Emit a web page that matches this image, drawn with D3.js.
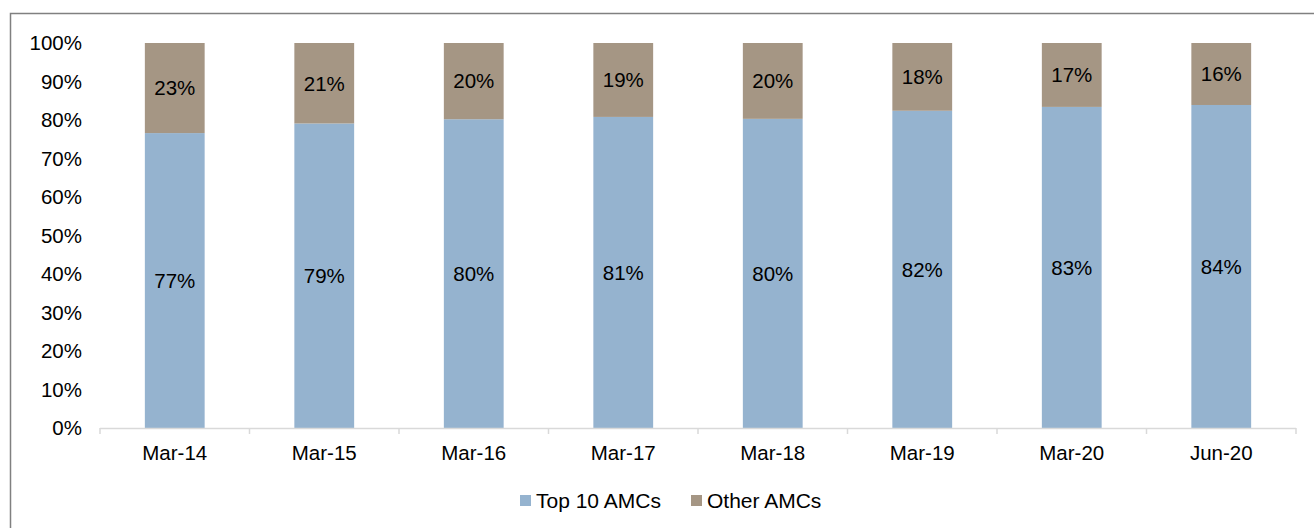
<!DOCTYPE html>
<html>
<head>
<meta charset="utf-8">
<script src="https://cdn.jsdelivr.net/npm/d3@7"></script>
<style>
  body { margin: 0; background: #fff; }
  text { font-family: "Liberation Sans", Arial, sans-serif; fill: #000; }
</style>
</head>
<body>
<div id="chart"></div>
<script>
// values (percent share of AUM)
var periods = ['Mar-14', 'Mar-15', 'Mar-16', 'Mar-17', 'Mar-18', 'Mar-19', 'Mar-20', 'Jun-20'];
var top10 = [76.6, 79.1, 80.2, 80.8, 80.3, 82.4, 83.4, 83.9];
var others = [23.4, 20.9, 19.8, 19.2, 19.7, 17.6, 16.6, 16.1];
var yTicks = [0, 10, 20, 30, 40, 50, 60, 70, 80, 90, 100];
var seriesNames = ['Top 10 AMCs', 'Other AMCs'];
var seriesColors = ['#95b3cf', '#a59684'];

var W = 1314, H = 528;

var svg = d3.select('#chart').append('svg')
  .attr('width', W)
  .attr('height', H);

// outer frame
svg.append('rect')
  .attr('x', 10.5).attr('y', 13.5)
  .attr('width', W).attr('height', H)
  .style('fill', 'none')
  .style('stroke', '#808080')
  .style('stroke-width', 1.5);

var x = d3.scaleBand()
  .domain(periods)
  .range([100, 1296])
  .paddingInner(0.6)
  .paddingOuter(0.3);

var y = d3.scaleLinear()
  .domain([0, 100])
  .range([428, 43]);

var rows = periods.map(function(p, i) {
  return { period: p, top10: top10[i], others: others[i] };
});

var stacked = d3.stack().keys(['top10', 'others'])(rows);

var groups = svg.selectAll('g.series')
  .data(stacked)
  .enter()
  .append('g')
  .attr('class', 'series')
  .style('fill', (d, i) => seriesColors[i]);

groups.selectAll('rect')
  .data(d => d)
  .enter()
  .append('rect')
  .attr('x', d => x(d.data.period))
  .attr('y', d => y(d[1]))
  .attr('width', x.bandwidth())
  .attr('height', d => y(d[0]) - y(d[1]));

groups.selectAll('text')
  .data(d => d)
  .enter()
  .append('text')
  .attr('x', d => x(d.data.period) + x.bandwidth() / 2)
  .attr('y', d => (y(d[0]) + y(d[1])) / 2)
  .attr('dy', '0.36em')
  .attr('text-anchor', 'middle')
  .style('font-size', '20.5px')
  .text(d => Math.round(d[1] - d[0]) + '%');

// y axis labels (no line)
svg.append('g').selectAll('text')
  .data(yTicks)
  .enter()
  .append('text')
  .attr('x', 82)
  .attr('y', d => y(d))
  .attr('dy', '0.36em')
  .attr('text-anchor', 'end')
  .style('font-size', '20.5px')
  .text(d => d + '%');

// x axis: baseline with tick marks at category boundaries
var step = x.step();
var xAxis = svg.append('g');
xAxis.append('line')
  .attr('x1', 100).attr('x2', 1296)
  .attr('y1', 428.5).attr('y2', 428.5)
  .style('stroke', '#d9d9d9')
  .style('stroke-width', 1.5);

xAxis.selectAll('line.tick')
  .data(d3.range(periods.length + 1))
  .enter()
  .append('line')
  .attr('class', 'tick')
  .attr('x1', i => 100 + i * step)
  .attr('x2', i => 100 + i * step)
  .attr('y1', 428)
  .attr('y2', 434)
  .style('stroke', '#d9d9d9')
  .style('stroke-width', 1.5);

xAxis.selectAll('text')
  .data(periods)
  .enter()
  .append('text')
  .attr('x', d => x(d) + x.bandwidth() / 2)
  .attr('y', 460)
  .attr('text-anchor', 'middle')
  .style('font-size', '20.5px')
  .text(d => d);

// legend
var legendX = [520, 691];
var legend = svg.append('g').selectAll('g')
  .data(seriesNames)
  .enter()
  .append('g')
  .attr('transform', (d, i) => 'translate(' + legendX[i] + ',495)');

legend.append('rect')
  .attr('width', 11).attr('height', 11)
  .style('fill', (d, i) => seriesColors[i]);

legend.append('text')
  .attr('x', 16)
  .attr('y', 13)
  .style('font-size', '21px')
  .text(d => d);
</script>
</body>
</html>
